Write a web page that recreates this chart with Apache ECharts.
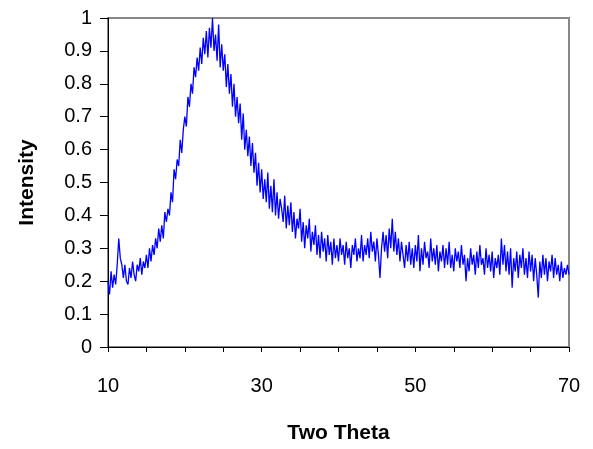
<!DOCTYPE html>
<html>
<head>
<meta charset="utf-8">
<script src="https://cdn.jsdelivr.net/npm/echarts@6/dist/echarts.min.js"></script>
<style>
html, body { margin: 0; padding: 0; background: #fff; }
#chart { width: 593px; height: 449px; }
</style>
</head>
<body>
<div id="chart"></div>
<script>
// two theta from 10 to 70 in 0.2 steps
var thetaStart = 10;
var thetaStep = 0.2;

// intensity, five points per degree
var intensity = [
    0.20, 0.16, 0.23, 0.18, 0.22,   // 10
    0.19, 0.25, 0.33, 0.27, 0.25,   // 11
    0.21, 0.25, 0.20, 0.19, 0.24,   // 12
    0.21, 0.26, 0.22, 0.20, 0.25,   // 13
    0.23, 0.27, 0.22, 0.26, 0.24,   // 14
    0.28, 0.24, 0.30, 0.26, 0.31,   // 15
    0.28, 0.33, 0.30, 0.36, 0.32,   // 16
    0.37, 0.33, 0.41, 0.38, 0.42,   // 17
    0.40, 0.47, 0.44, 0.54, 0.51,   // 18
    0.57, 0.55, 0.63, 0.59, 0.66,   // 19
    0.70, 0.67, 0.76, 0.73, 0.80,   // 20
    0.77, 0.85, 0.82, 0.88, 0.84,   // 21
    0.91, 0.86, 0.94, 0.89, 0.96,   // 22
    0.88, 0.97, 0.91, 1.00, 0.90,   // 23
    0.95, 0.87, 0.98, 0.85, 0.92,   // 24
    0.84, 0.89, 0.79, 0.86, 0.77,   // 25
    0.83, 0.73, 0.80, 0.70, 0.76,   // 26
    0.68, 0.74, 0.63, 0.71, 0.60,   // 27
    0.66, 0.58, 0.64, 0.55, 0.62,   // 28
    0.53, 0.59, 0.49, 0.56, 0.47,   // 29
    0.54, 0.45, 0.51, 0.44, 0.53,   // 30
    0.42, 0.49, 0.41, 0.51, 0.40,   // 31
    0.47, 0.39, 0.45, 0.42, 0.38,   // 32
    0.46, 0.36, 0.43, 0.37, 0.44,   // 33
    0.35, 0.41, 0.33, 0.39, 0.36,   // 34
    0.42, 0.32, 0.38, 0.30, 0.37,   // 35
    0.33, 0.39, 0.29, 0.35, 0.31,   // 36
    0.37, 0.28, 0.34, 0.27, 0.35,   // 37
    0.29, 0.33, 0.26, 0.34, 0.28,   // 38
    0.32, 0.25, 0.33, 0.27, 0.31,   // 39
    0.26, 0.33, 0.28, 0.31, 0.25,   // 40
    0.32, 0.27, 0.30, 0.24, 0.31,   // 41
    0.28, 0.33, 0.26, 0.30, 0.27,   // 42
    0.34, 0.26, 0.31, 0.28, 0.33,   // 43
    0.27, 0.35, 0.29, 0.32, 0.26,   // 44
    0.33, 0.28, 0.21, 0.30, 0.35,   // 45
    0.29, 0.34, 0.27, 0.36, 0.30,   // 46
    0.39, 0.29, 0.35, 0.28, 0.33,   // 47
    0.26, 0.32, 0.28, 0.24, 0.31,   // 48
    0.26, 0.32, 0.25, 0.30, 0.24,   // 49
    0.31, 0.26, 0.34, 0.23, 0.30,   // 50
    0.25, 0.32, 0.27, 0.29, 0.24,   // 51
    0.33, 0.26, 0.30, 0.25, 0.31,   // 52
    0.23, 0.29, 0.26, 0.31, 0.24,   // 53
    0.30, 0.25, 0.32, 0.24, 0.28,   // 54
    0.23, 0.30, 0.26, 0.29, 0.24,   // 55
    0.31, 0.25, 0.28, 0.20, 0.27,   // 56
    0.23, 0.30, 0.25, 0.28, 0.22,   // 57
    0.29, 0.24, 0.31, 0.25, 0.27,   // 58
    0.22, 0.30, 0.24, 0.28, 0.23,   // 59
    0.29, 0.21, 0.27, 0.24, 0.28,   // 60
    0.22, 0.33, 0.25, 0.31, 0.23,   // 61
    0.29, 0.22, 0.30, 0.18, 0.27,   // 62
    0.23, 0.29, 0.21, 0.28, 0.24,   // 63
    0.30, 0.22, 0.27, 0.21, 0.29,   // 64
    0.23, 0.28, 0.20, 0.27, 0.22,   // 65
    0.15, 0.26, 0.21, 0.28, 0.22,   // 66
    0.27, 0.20, 0.26, 0.23, 0.28,   // 67
    0.21, 0.27, 0.22, 0.25, 0.20,   // 68
    0.26, 0.21, 0.24, 0.22, 0.25,   // 69
    0.22                            // 70
];

var xLabels = [10, 30, 50, 70];

var points = intensity.map(function (v, i) {
    return [Math.round((thetaStart + i * thetaStep) * 10) / 10, v];
});

var chart = echarts.init(document.getElementById('chart'), null, { renderer: 'canvas' });
var option = {
    animation: false,
    backgroundColor: '#fff',
    grid: {
        left: 108,
        right: 24,
        top: 18,
        bottom: 100,
        show: true,
        borderColor: '#888',
        borderWidth: 2,
        backgroundColor: 'transparent'
    },
    xAxis: {
        type: 'value',
        min: 10,
        max: 70,
        interval: 5,
        name: 'Two Theta',
        nameLocation: 'middle',
        nameGap: 76,
        nameTextStyle: {
            fontFamily: 'Liberation Sans',
            fontWeight: 'bold',
            fontSize: 21,
            color: '#000'
        },
        axisLine: { lineStyle: { color: '#000', width: 1 } },
        axisTick: { length: 5, lineStyle: { color: '#000' } },
        splitLine: { show: false },
        axisLabel: {
            margin: 29,
            fontFamily: 'Liberation Sans',
            fontSize: 20,
            color: '#000',
            formatter: function (v) {
                return xLabels.indexOf(v) >= 0 ? String(v) : '';
            }
        }
    },
    yAxis: {
        type: 'value',
        min: 0,
        max: 1,
        interval: 0.1,
        name: 'Intensity',
        nameLocation: 'middle',
        nameGap: 70,
        nameTextStyle: {
            fontFamily: 'Liberation Sans',
            fontWeight: 'bold',
            fontSize: 21,
            color: '#000'
        },
        axisLine: { show: true, lineStyle: { color: '#000', width: 1 } },
        axisTick: { show: true, length: 8, lineStyle: { color: '#000' } },
        splitLine: { show: false },
        axisLabel: {
            margin: 16,
            fontFamily: 'Liberation Sans',
            fontSize: 20,
            color: '#000',
            formatter: function (v) {
                return String(Math.round(v * 10) / 10);
            }
        }
    },
    series: [
        {
            type: 'line',
            data: points,
            symbol: 'none',
            lineStyle: { color: '#0000ff', width: 1.3 },
            clip: true
        }
    ]
};
chart.setOption(option);
</script>
</body>
</html>
